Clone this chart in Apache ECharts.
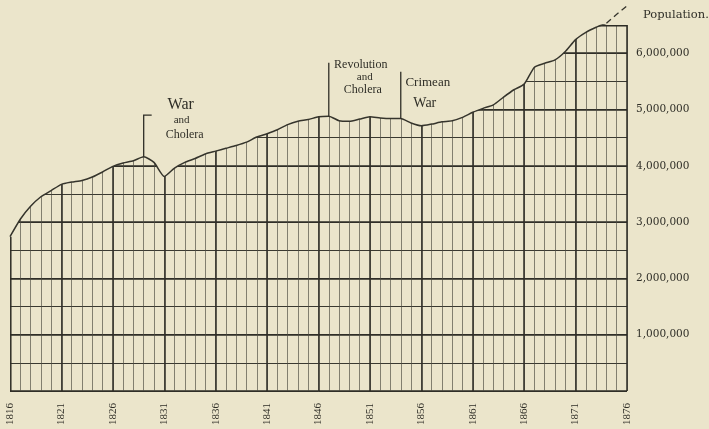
<!DOCTYPE html>
<html>
<head>
<meta charset="utf-8">
<script src="https://cdn.jsdelivr.net/npm/echarts@6/dist/echarts.min.js"></script>
<style>
  html, body { margin: 0; padding: 0; background: #ebe5cb; }
  #chart { width: 709px; height: 429px; }
</style>
</head>
<body>
<div id="chart"></div>
<script>
// Census years along the bottom (one category per year)
const years = [
  '1816','1817','1818','1819','1820','1821','1822','1823','1824','1825',
  '1826','1827','1828','1829','1830','1831','1832','1833','1834','1835',
  '1836','1837','1838','1839','1840','1841','1842','1843','1844','1845',
  '1846','1847','1848','1849','1850','1851','1852','1853','1854','1855',
  '1856','1857','1858','1859','1860','1861','1862','1863','1864','1865',
  '1866','1867','1868','1869','1870','1871','1872','1873','1874','1875',
  '1876'
];

// Recorded population, 1816 - 1874
const population = [
  2740000, 3050000, 3280000, 3450000, 3560000, 3670000, 3710000, 3740000, 3800000, 3890000,
  3990000, 4050000, 4090000, 4160000, 4060000, 3810000, 3960000, 4060000, 4130000, 4210000,
  4260000, 4310000, 4360000, 4420000, 4510000, 4570000, 4640000, 4730000, 4790000, 4820000,
  4870000, 4880000, 4800000, 4790000, 4830000, 4870000, 4850000, 4840000, 4840000, 4760000,
  4710000, 4740000, 4780000, 4800000, 4860000, 4950000, 5020000, 5080000, 5220000, 5350000,
  5450000, 5750000, 5820000, 5880000, 6030000, 6240000, 6370000, 6460000, 6530000
];

// Projected continuation, 1874 - 1876 (drawn dashed)
const projected = [6530000, 6690000, 6840000];

// Labelled scale values on the right
const yTicks = [1000000, 2000000, 3000000, 4000000, 5000000, 6000000];

// Historical events marked above the curve
const events = [
  { year: '1829', lines: ['War', 'and', 'Cholera'], reach: 4900000 },
  { year: '1847', lines: ['Revolution', 'and', 'Cholera'], reach: 5830000 },
  { year: '1854', lines: ['Crimean', 'War'], reach: 5670000 }
];

const BG = '#ebe5cb';
const INK = '#2f2e27';
const SERIF = '"DejaVu Serif", "Liberation Serif", serif';
const SERIF2 = '"Liberation Serif", "DejaVu Serif", serif';
const Y_MAX = 6500000;

// Per-event text layout, offsets from the top of each marker line
const eventText = [
  { bracket: true, items: [
      { dx: 37, dy: -10, size: 16 }, { dx: 38, dy: 5, size: 11 }, { dx: 41, dy: 20, size: 12 } ] },
  { bracket: false, items: [
      { dx: 32, dy: 2, size: 12 }, { dx: 36, dy: 14, size: 11 }, { dx: 34, dy: 27, size: 12 } ] },
  { bracket: false, items: [
      { dx: 27, dy: 11, size: 13 }, { dx: 24, dy: 32, size: 14 } ] }
];

const fullSeries = years.map((y, i) => i < population.length ? population[i] : projected[i - population.length + 1]);
const projSeries = years.map((y, i) => i >= population.length - 1 ? projected[i - population.length + 1] : null);

const eventData = events.map((e, k) => {
  const idx = years.indexOf(e.year);
  return [idx, population[idx], e.reach, k];
});

const chart = echarts.init(document.getElementById('chart'), null, { renderer: 'canvas' });

const catAxis = (extra) => Object.assign({
  type: 'category',
  data: years,
  boundaryGap: false,
  axisLine: { show: false },
  axisTick: { show: false },
  position: 'bottom'
}, extra);

chart.setOption({
  backgroundColor: BG,
  animation: false,
  title: {
    text: 'Population.',
    left: 638,
    top: 4,
    textStyle: { fontFamily: SERIF, fontSize: 11.5, fontWeight: 'normal', color: INK }
  },
  grid: { left: 10, right: 82, top: 25, bottom: 38 },
  xAxis: [
    // every year: light rule
    catAxis({
      axisLabel: { show: false },
      splitLine: { show: true, interval: 0, showMinLine: false,
        lineStyle: { color: '#4d4c42', width: 0.9, opacity: 0.75 } }
    }),
    // every fifth year: heavy rule with label
    catAxis({
      axisLabel: {
        show: true, interval: 4, rotate: 90, margin: 12,
        fontFamily: SERIF2, fontSize: 11, color: INK
      },
      splitLine: { show: true, interval: 4, showMinLine: false,
        lineStyle: { color: '#2c2b24', width: 1.5 } }
    })
  ],
  yAxis: [
    {
      type: 'value', min: 0, max: Y_MAX, interval: 500000, position: 'left',
      axisLine: { show: false }, axisTick: { show: false }, axisLabel: { show: false },
      splitLine: { show: true, showMaxLine: false, lineStyle: { color: '#3a3930', width: 1 } }
    },
    {
      type: 'value', min: 0, max: Y_MAX, interval: 1000000, position: 'right',
      axisLine: { show: false }, axisTick: { show: false },
      axisLabel: {
        margin: 9, fontFamily: SERIF, fontSize: 10.5, color: INK,
        formatter: v => yTicks.indexOf(v) >= 0 ? v.toLocaleString('en-US') : ''
      },
      splitLine: { show: true, showMaxLine: false, lineStyle: { color: '#2c2b24', width: 1.6 } }
    }
  ],
  series: [
    {
      // frame: top rule at the scale maximum and left edge up to the first value
      name: 'frame',
      type: 'custom',
      xAxisIndex: 0, yAxisIndex: 0,
      data: [[0, population[0], years.length - 1, Y_MAX]],
      z: 1,
      silent: true,
      renderItem: function (params, api) {
        const p0 = api.coord([api.value(0), 0]);
        const p1 = api.coord([api.value(0), api.value(1)]);
        const a = api.coord([api.value(0), api.value(3)]);
        const b = api.coord([api.value(2), api.value(3)]);
        return {
          type: 'group',
          children: [
            { type: 'line', shape: { x1: p0[0] + 0.8, y1: p0[1], x2: p1[0] + 0.8, y2: p1[1] },
              style: { stroke: '#2c2b24', lineWidth: 1.5 } },
            { type: 'line', shape: { x1: a[0], y1: a[1] + 0.8, x2: b[0], y2: b[1] + 0.8 },
              style: { stroke: '#2c2b24', lineWidth: 1.6 } }
          ]
        };
      }
    },
    {
      // blank paper above the curve hides the ruling there
      name: 'cover',
      type: 'line',
      data: fullSeries,
      xAxisIndex: 0, yAxisIndex: 0,
      symbol: 'none',
      smooth: 0.2,
      silent: true,
      lineStyle: { width: 0, opacity: 0 },
      areaStyle: { origin: 'end', color: BG, opacity: 1 },
      z: 2
    },
    {
      name: 'Population',
      type: 'line',
      data: population,
      xAxisIndex: 0, yAxisIndex: 0,
      symbol: 'none',
      smooth: 0.2,
      lineStyle: { color: '#35342c', width: 1.5 },
      z: 3
    },
    {
      name: 'Projection',
      type: 'line',
      data: projSeries,
      xAxisIndex: 0, yAxisIndex: 0,
      symbol: 'none',
      clip: false,
      lineStyle: { color: '#35342c', width: 1.3, type: [6, 4] },
      z: 3
    },
    {
      name: 'events',
      type: 'custom',
      xAxisIndex: 0, yAxisIndex: 0,
      data: eventData,
      clip: false,
      z: 4,
      renderItem: function (params, api) {
        const idx = api.value(0);
        const base = api.coord([idx, api.value(1)]);
        const top = api.coord([idx, api.value(2)]);
        const k = api.value(3);
        const layout = eventText[k];
        const pts = [[base[0], base[1]], [top[0], top[1]]];
        if (layout.bracket) pts.push([top[0] + 8, top[1]]);
        const children = [{
          type: 'polyline',
          shape: { points: pts },
          style: { stroke: INK, lineWidth: 1.3, fill: null }
        }];
        events[k].lines.forEach((t, j) => {
          const it = layout.items[j];
          children.push({
            type: 'text',
            x: top[0] + it.dx,
            y: top[1] + it.dy,
            style: {
              text: t,
              fontFamily: SERIF2,
              fontSize: it.size,
              fill: INK,
              align: 'center',
              verticalAlign: 'middle'
            }
          });
        });
        return { type: 'group', children: children };
      }
    }
  ]
});
</script>
</body>
</html>
